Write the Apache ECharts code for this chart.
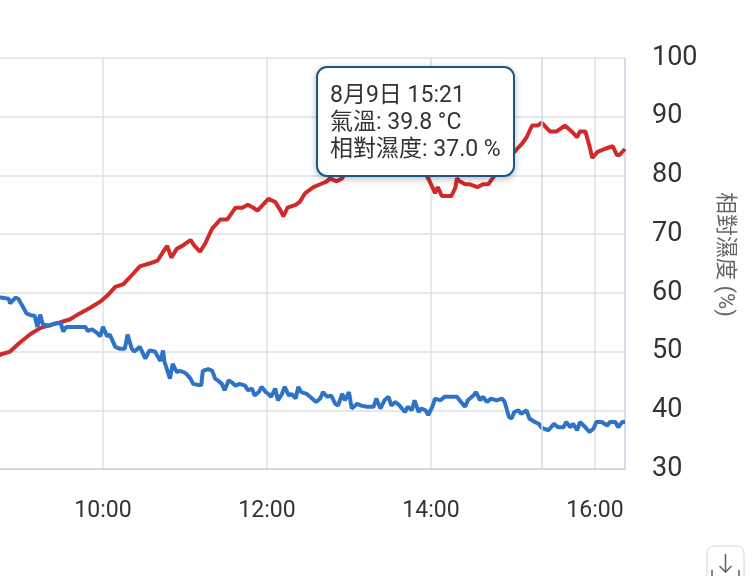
<!DOCTYPE html>
<html>
<head>
<meta charset="utf-8">
<script src="https://cdn.jsdelivr.net/npm/echarts@6/dist/echarts.min.js"></script>
<style>
html,body{margin:0;padding:0;background:#fff;}
#chart{width:756px;height:576px;}
</style>
</head>
<body>
<div id="chart"></div>
<script>
const dateLabel = '8月9日';
const tooltipTime = '15:21';

// 氣溫 (°C)
const tempTimes = ['08:42','08:45','08:52','08:59','09:07','09:14','09:21','09:29','09:36','09:43','09:51','09:58',
'10:03','10:09','10:15','10:21','10:27','10:34','10:40','10:44','10:47','10:50','10:54','10:58',
'11:04','11:07','11:11','11:15','11:20','11:26','11:31','11:37','11:42','11:46','11:50','11:53','11:57',
'12:01','12:06','12:10','12:12','12:15','12:21','12:24','12:28','12:34','12:39','12:44','12:46','12:51','12:55','12:57',
'13:04','13:12','13:20','13:28','13:35','13:39','13:45','13:50','13:54','13:58',
'14:01','14:03','14:05','14:08','14:12','14:15','14:18','14:19','14:21','14:25','14:28','14:34','14:38','14:42','14:45','14:50','14:56','14:59',
'15:03','15:07','15:10','15:14','15:18','15:21','15:23','15:27','15:32','15:38','15:43','15:47','15:49','15:53','15:56','15:58',
'16:02','16:07','16:13','16:16','16:18','16:22'];
const tempValues = [31.8,31.9,32.0,32.3,32.6,32.8,32.9,33.0,33.1,33.3,33.5,33.7,
33.9,34.2,34.3,34.6,34.9,35.0,35.1,35.4,35.6,35.2,35.5,35.6,
35.8,35.6,35.4,35.7,36.2,36.5,36.5,36.9,36.9,37.0,36.9,36.8,37.0,
37.2,37.1,36.8,36.6,36.9,37.0,37.1,37.4,37.6,37.7,37.8,37.9,37.8,37.9,38.1,
38.2,38.2,38.1,38.1,38.1,38.2,38.1,38.1,38.2,37.9,
37.6,37.4,37.6,37.3,37.3,37.3,37.6,37.9,37.8,37.7,37.7,37.6,37.7,37.7,37.9,38.2,38.5,38.7,
38.9,39.1,39.3,39.7,39.7,39.8,39.7,39.5,39.5,39.7,39.5,39.3,39.5,39.5,39.0,38.6,
38.8,38.9,39.0,38.7,38.7,38.9];

// 相對濕度 (%)
const humTimes = ['08:42','08:45','08:51','08:52','08:56','08:58','09:01','09:04','09:07','09:10','09:12','09:14','09:16','09:21','09:25','09:29','09:31','09:33','09:40','09:47','09:49','09:52','09:56','09:58',
'10:00','10:03','10:05','10:09','10:12','10:16','10:18','10:21','10:23','10:27','10:31','10:34','10:38','10:42','10:44','10:45','10:49','10:51','10:54','10:56','10:59',
'11:01','11:04','11:06','11:10','11:12','11:13','11:17','11:20','11:22','11:24','11:27','11:29','11:32','11:34','11:37','11:40','11:44','11:46','11:49','11:51','11:54','11:56','11:59',
'12:01','12:03','12:06','12:08','12:11','12:13','12:16','12:18','12:21','12:23','12:25','12:29','12:33','12:36','12:39','12:41','12:44','12:47','12:50','12:52','12:55','12:57',
'13:00','13:02','13:06','13:09','13:13','13:18','13:20','13:23','13:26','13:29','13:31','13:34','13:37','13:41','13:43','13:46','13:48','13:51','13:53','13:56','13:58',
'14:01','14:03','14:07','14:10','14:15','14:19','14:22','14:25','14:27','14:31','14:33','14:36','14:38','14:41','14:44','14:48','14:52','14:54','14:57','14:59',
'15:01','15:04','15:06','15:10','15:12','15:16','15:19','15:21','15:22','15:26','15:30','15:33','15:37','15:39','15:42','15:44','15:47','15:49','15:53','15:56','15:59',
'16:01','16:05','16:09','16:11','16:15','16:17','16:20','16:22'];
const humValues = [59.2,59.2,59.0,58.2,59.2,59.0,57.8,56.5,56.2,56.1,54.2,56.3,54.6,54.4,54.8,54.9,53.4,54.2,54.2,54.2,53.5,53.8,53.1,52.6,
54.2,52.6,52.9,50.8,50.5,50.5,52.9,50.5,50.0,50.8,48.8,50.2,50.0,48.4,50.2,48.3,45.4,47.9,46.5,46.7,46.5,
46.2,45.4,44.5,44.3,44.3,46.7,47.0,46.7,45.4,45.1,44.5,43.4,45.1,44.8,44.2,44.5,44.2,43.4,43.7,42.5,43.1,44.0,43.1,
42.8,42.3,43.7,41.7,42.8,44.0,42.5,42.8,42.0,44.0,43.1,42.8,42.0,41.4,42.0,43.1,42.3,42.5,41.1,40.8,42.8,41.7,
43.1,40.3,41.1,40.8,40.6,40.6,42.0,40.3,41.7,42.3,40.8,41.4,40.8,39.7,40.6,40.0,41.7,39.7,40.3,40.0,39.2,
40.6,42.0,41.7,42.3,42.3,42.3,41.4,40.6,41.7,42.5,43.1,41.7,42.3,41.4,42.0,41.7,42.0,41.4,38.9,38.6,
39.7,40.0,39.4,40.0,38.6,38.0,37.7,37.0,37.1,36.6,37.7,37.1,37.1,38.0,37.1,37.7,36.6,38.0,37.1,36.3,36.9,
38.0,38.0,37.4,38.0,38.0,37.1,38.0,38.0];

// axis settings (minutes of the day)
const xStart = '08:00', xEnd = '16:22', xStepMin = 120;
const humAxis = {min: 30, max: 100, step: 10};
const tempAxis = {min: 28, max: 42, step: 2};

function toMin(s){ return parseInt(s.slice(0,2),10)*60 + parseInt(s.slice(3),10); }
function pad(n){ return (n < 10 ? '0' : '') + n; }
function fmt(m){ m = Math.round(m); return pad(Math.floor(m/60)) + ':' + pad(m%60); }

const tempData = tempTimes.map((t,i) => [toMin(t), tempValues[i]]);
const humData = humTimes.map((t,i) => [toMin(t), humValues[i]]);

const FONT = 'Roboto, "Noto Sans CJK TC", "Noto Sans", sans-serif';
const gridColor = '#e0e0e6';

const chart = echarts.init(document.getElementById('chart'), null, {renderer: 'canvas'});
chart.setOption({
  animation: false,
  backgroundColor: '#ffffff',
  textStyle: {fontFamily: FONT},
  grid: {left: -61, right: 131, top: 58, bottom: 107, containLabel: false, outerBoundsMode: 'none'},
  xAxis: {
    type: 'value',
    min: toMin(xStart), max: toMin(xEnd), interval: xStepMin,
    axisLine: {show: true, lineStyle: {color: '#d4d4d4', width: 1.5}},
    axisTick: {show: false},
    axisLabel: {formatter: v => fmt(v), fontSize: 23, color: '#333', margin: 31, showMaxLabel: false, fontFamily: FONT},
    splitLine: {show: true, lineStyle: {color: gridColor, width: 1.5}}
  },
  yAxis: [{
    type: 'value', position: 'right',
    min: humAxis.min, max: humAxis.max, interval: humAxis.step,
    name: '相對濕度 (%)', nameLocation: 'middle', nameRotate: -90, nameGap: 88,
    nameTextStyle: {fontSize: 22, color: '#666', fontFamily: FONT, padding: [0, 18, 0, 0]},
    axisLine: {show: true, lineStyle: {color: '#d4d4ea', width: 1.5}},
    axisTick: {show: false},
    axisLabel: {fontSize: 27, color: '#333', margin: 27, fontFamily: FONT, padding: [6, 0, 0, 0]},
    splitLine: {show: true, lineStyle: {color: gridColor, width: 1.5}}
  }, {
    type: 'value', position: 'left',
    min: tempAxis.min, max: tempAxis.max, interval: tempAxis.step,
    show: false,
    splitLine: {show: false}
  }],
  tooltip: {
    show: true,
    trigger: 'axis',
    triggerOn: 'none',
    alwaysShowContent: true,
    transitionDuration: 0,
    position: [316, 66],
    backgroundColor: '#ffffff',
    borderColor: '#1f5683',
    borderWidth: 2,
    padding: [13, 12],
    extraCssText: 'border-radius:11px; box-shadow:0 2px 7px rgba(0,0,0,0.28);',
    textStyle: {fontSize: 23, color: '#333', fontFamily: FONT},
    axisPointer: {type: 'line', snap: true, lineStyle: {color: '#d8d8e4', width: 1.5, type: 'solid'}, label: {show: false}},
    formatter: function(params){
      let t = null, h = null, m = null;
      params.forEach(p => {
        if (p.seriesIndex === 0) { t = p.value[1]; m = p.value[0]; }
        if (p.seriesIndex === 1) { h = p.value[1]; if (m === null) m = p.value[0]; }
      });
      return '<div style="line-height:27px;font-size:23px;color:#333;white-space:nowrap;">' +
        dateLabel + ' ' + fmt(m) + '<br/>' +
        '氣溫: ' + t.toFixed(1) + ' °C<br/>' +
        '相對濕度: ' + h.toFixed(1) + ' %</div>';
    }
  },
  series: [{
    name: '氣溫', type: 'line', yAxisIndex: 1,
    data: tempData, symbol: 'none', showSymbol: false,
    lineStyle: {color: '#d12a2a', width: 4}, itemStyle: {color: '#d12a2a'},
    emphasis: {disabled: true}
  }, {
    name: '相對濕度', type: 'line', yAxisIndex: 0,
    data: humData, symbol: 'none', showSymbol: false,
    lineStyle: {color: '#2f73c6', width: 4}, itemStyle: {color: '#2f73c6'},
    emphasis: {disabled: true}
  }],
  graphic: [
    {type: 'rect', x: 0, y: 0, silent: true, shape: {x: 707, y: 546, width: 37, height: 44, r: 7}, style: {fill: '#fff', stroke: '#d4d4d4', lineWidth: 1}},
    {type: 'line', x: 0, y: 0, silent: true, shape: {x1: 725.5, y1: 554, x2: 725.5, y2: 572}, style: {stroke: '#666', lineWidth: 1.6}},
    {type: 'polyline', x: 0, y: 0, silent: true, shape: {points: [[719.5, 566], [725.5, 572], [731.5, 566]]}, style: {stroke: '#666', lineWidth: 1.6, fill: null}},
    {type: 'polyline', x: 0, y: 0, silent: true, shape: {points: [[712, 570], [712, 580], [739, 580], [739, 570]]}, style: {stroke: '#666', lineWidth: 1.6, fill: null}}
  ]
});

const tipIndex = tempTimes.indexOf(tooltipTime);
chart.dispatchAction({type: 'showTip', seriesIndex: 0, dataIndex: tipIndex});
</script>
</body>
</html>
